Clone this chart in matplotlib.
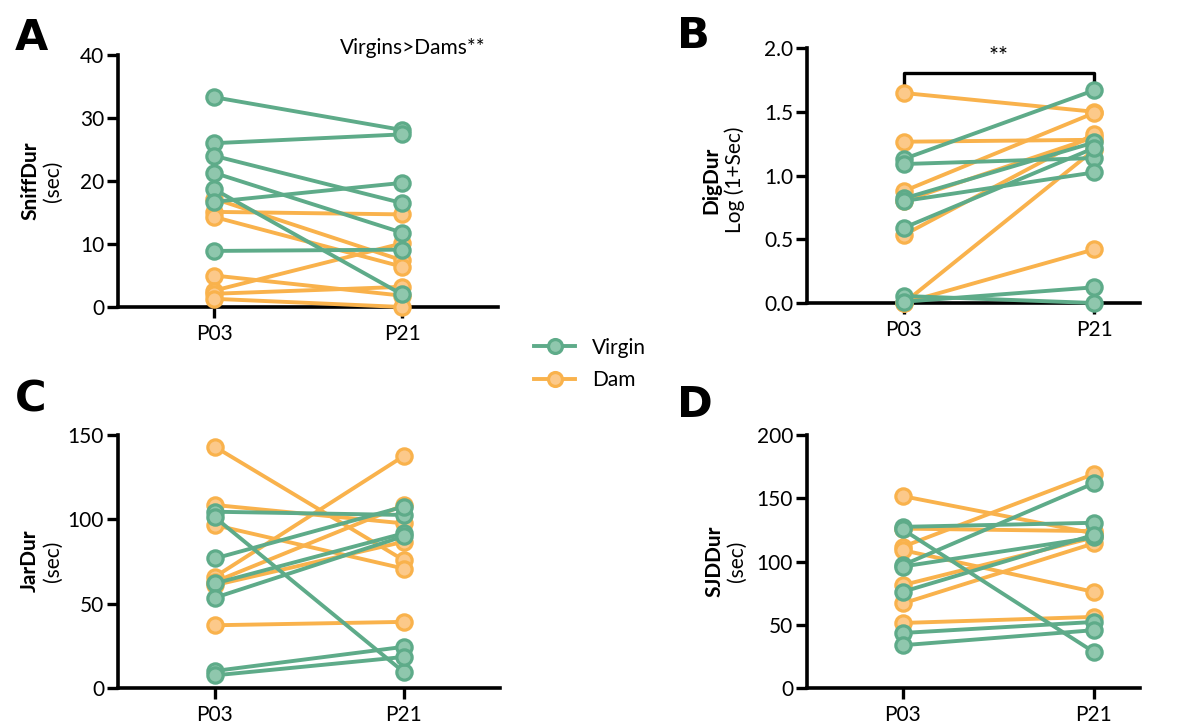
import matplotlib
matplotlib.use("Agg")
import matplotlib.pyplot as plt
from matplotlib.lines import Line2D

plt.rcParams['font.family'] = ['Lato', 'DejaVu Sans']

timepoints = ["P03", "P21"]

# Panel A: SniffDur (sec)
sniff_virgin_p03 = [33.3, 26.0, 24.0, 21.3, 18.7, 16.7, 8.9]
sniff_virgin_p21 = [28.1, 27.4, 16.5, 11.8, 2.0, 19.7, 9.1]
sniff_dam_p03 = [17.2, 15.1, 14.3, 5.0, 2.6, 2.1, 1.3]
sniff_dam_p21 = [7.4, 14.7, 6.4, 1.8, 10.1, 3.2, 0.0]

# Panel B: DigDur Log(1+Sec)
dig_virgin_p03 = [1.13, 1.09, 0.82, 0.80, 0.59, 0.055, 0.01]
dig_virgin_p21 = [1.668, 1.137, 1.259, 1.024, 1.215, 0.0, 0.123]
dig_dam_p03 = [1.647, 1.265, 0.878, 0.80, 0.534, 0.0, 0.0]
dig_dam_p21 = [1.50, 1.28, 1.49, 1.30, 1.325, 1.20, 0.42]

# Panel C: JarDur (sec)
jar_virgin_p03 = [104.5, 101.2, 76.8, 62.0, 53.5, 10.1, 7.5]
jar_virgin_p21 = [102.6, 9.5, 107.5, 91.7, 90.0, 24.4, 18.4]
jar_dam_p03 = [143.0, 108.5, 96.6, 65.9, 63.0, 61.0, 37.2]
jar_dam_p21 = [75.8, 97.6, 70.8, 137.5, 108.4, 86.7, 39.2]

# Panel D: SJDDur (sec)
sjd_virgin_p03 = [127.4, 125.4, 97.1, 96.0, 76.0, 43.5, 33.8]
sjd_virgin_p21 = [130.6, 28.5, 161.8, 119.0, 121.0, 52.2, 45.7]
sjd_dam_p03 = [151.7, 126.0, 111.6, 109.0, 81.3, 66.8, 51.4]
sjd_dam_p21 = [122.2, 124.0, 169.1, 76.0, 119.0, 114.3, 56.2]

GREEN = "#5eab89"
GREEN_FACE = "#8fc7ad"
ORANGE = "#f9b24c"
ORANGE_FACE = "#fcc98a"

FS = 15
LW = 2.8
MS = 11
MEW = 2.3

W, H = 1188, 726
fig = plt.figure(figsize=(W / 100, H / 100), dpi=100)


def px_axes(x0, x1, y_top, y_bot):
    return fig.add_axes([x0 / W, 1 - y_bot / H, (x1 - x0) / W, (y_bot - y_top) / H])


def draw_panel(ax, v03, v21, d03, d21, yticks, ylabels, xlim):
    for a, b in zip(d03, d21):
        ax.plot([0, 1], [a, b], color=ORANGE, lw=LW, marker='o', ms=MS,
                mfc=ORANGE_FACE, mec=ORANGE, mew=MEW, clip_on=False, zorder=3)
    for a, b in zip(v03, v21):
        ax.plot([0, 1], [a, b], color=GREEN, lw=LW, marker='o', ms=MS,
                mfc=GREEN_FACE, mec=GREEN, mew=MEW, clip_on=False, zorder=4)
    ax.set_xlim(*xlim)
    ax.set_ylim(yticks[0], yticks[-1])
    ax.set_yticks(yticks)
    ax.set_yticklabels(ylabels)
    ax.set_xticks([0, 1])
    ax.set_xticklabels(timepoints)
    for s in ['top', 'right']:
        ax.spines[s].set_visible(False)
    for s in ['left', 'bottom']:
        ax.spines[s].set_linewidth(2.6)
    ax.tick_params(axis='both', direction='out', length=8, width=2.4,
                   labelsize=FS, pad=2, colors='black')
    ax.tick_params(axis='x', pad=4)


# Panel A
axA = px_axes(118, 498, 55, 307)
draw_panel(axA, sniff_virgin_p03, sniff_virgin_p21, sniff_dam_p03, sniff_dam_p21,
           [0, 10, 20, 30, 40], ["0", "10", "20", "30", "40"], (-0.511, 1.51))

# Panel B
axB = px_axes(807, 1140, 48, 303)
draw_panel(axB, dig_virgin_p03, dig_virgin_p21, dig_dam_p03, dig_dam_p21,
           [0, 0.5, 1.0, 1.5, 2.0], ["0.0", "0.5", "1.0", "1.5", "2.0"], (-0.51, 1.242))
axB.plot([0, 0, 1, 1], [1.71, 1.807, 1.807, 1.71], color='black', lw=2.4,
         clip_on=False, solid_capstyle='butt')
axB.text(0.5, 1.85, "**", ha='center', va='bottom', fontsize=17)

# Panel C
axC = px_axes(118, 500, 435, 688)
draw_panel(axC, jar_virgin_p03, jar_virgin_p21, jar_dam_p03, jar_dam_p21,
           [0, 50, 100, 150], ["0", "50", "100", "150"], (-0.513, 1.51))

# Panel D
axD = px_axes(807, 1140, 435, 688)
draw_panel(axD, sjd_virgin_p03, sjd_virgin_p21, sjd_dam_p03, sjd_dam_p21,
           [0, 50, 100, 150, 200], ["0", "50", "100", "150", "200"], (-0.5, 1.242))

# Annotation panel A
fig.text(413 / W, 1 - 48 / H, "Virgins>Dams**", ha='center', va='center', fontsize=FS)

# Y-axis labels
def ylab(xb, xn, yc, bold, normal):
    fig.text(xb / W, 1 - yc / H, bold, rotation=90, ha='center', va='center',
             fontsize=FS, fontweight='bold')
    fig.text(xn / W, 1 - yc / H, normal, rotation=90, ha='center', va='center',
             fontsize=FS)

ylab(30, 53, 181, "SniffDur", "(sec)")
ylab(711, 735, 180, "DigDur", "Log (1+Sec)")
ylab(30, 53, 561, "JarDur", "(sec)")
ylab(714, 737, 561, "SJDDur", "(sec)")

# Panel letters
for letter, x, y in [("A", 31, 38), ("B", 693, 36), ("C", 31, 400), ("D", 695, 405)]:
    fig.text(x / W, 1 - y / H, letter, ha='center', va='center', fontsize=31,
             fontweight='bold', family=['DejaVu Sans'])

# Legend
handles = [
    Line2D([0], [0], color=GREEN, lw=LW, marker='o', ms=MS - 1, mfc=GREEN_FACE, mec=GREEN, mew=MEW),
    Line2D([0], [0], color=ORANGE, lw=LW, marker='o', ms=MS - 1, mfc=ORANGE_FACE, mec=ORANGE, mew=MEW),
]
fig.legend(handles, ["Virgin", "Dam"], loc='center left',
           bbox_to_anchor=(515 / W, 1 - 364 / H), frameon=False, fontsize=FS,
           handlelength=2.0, handletextpad=0.8, labelspacing=0.6)

fig.savefig("out.png", dpi=100)
